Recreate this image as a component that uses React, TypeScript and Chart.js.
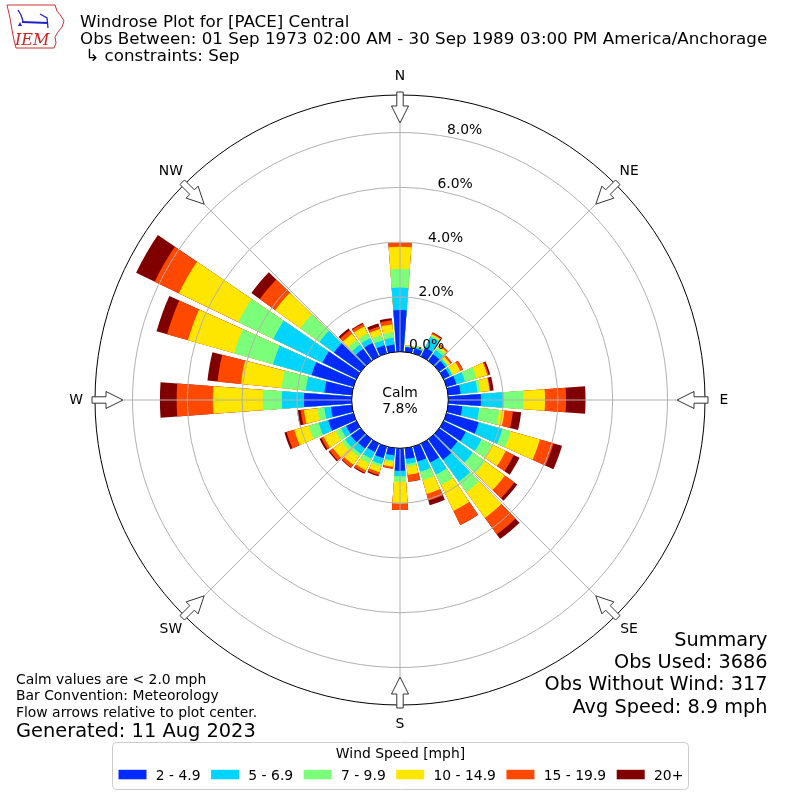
import React, { useEffect, useRef } from "react";
import { Chart, registerables } from "chart.js";

Chart.register(...registerables);

// Wind directions (degrees clockwise from north)
const directions = [0, 10, 20, 30, 40, 50, 60, 70, 80, 90, 100, 110, 120, 130, 140, 150, 160, 170,
  180, 190, 200, 210, 220, 230, 240, 250, 260, 270, 280, 290, 300, 310, 320, 330, 340, 350];

const speedBins = ["2 - 4.9", "5 - 6.9", "7 - 9.9", "10 - 14.9", "15 - 19.9", "20+"];
const binColors = ["#002aff", "#00d4ff", "#7bff7b", "#ffe600", "#ff4800", "#800000"];

// Frequency (%) of each speed bin for each direction
const freq2to5 = [1.52, 0.18, 0.20, 0.35, 0.30, 0.28, 0.25, 0.37, 0.46, 1.19, 0.52, 1.22, 0.90, 0.82, 0.92, 0.77, 0.57, 0.40,
  0.82, 0.27, 0.44, 0.34, 0.42, 0.45, 0.42, 0.96, 0.77, 1.74, 1.01, 1.59, 1.38, 1.21, 0.54, 0.55, 0.31, 0.27];
const freq5to7 = [0.82, 0.02, 0.05, 0.45, 0.18, 0.08, 0.10, 0.33, 0.62, 0.82, 0.62, 0.90, 0.64, 0.69, 0.99, 0.49, 0.39, 0.18,
  0.20, 0.19, 0.23, 0.28, 0.25, 0.25, 0.21, 0.36, 0.24, 0.81, 0.68, 1.46, 1.99, 0.65, 0.19, 0.19, 0.19, 0.25];
const freq7to10 = [0.68, 0.02, 0.03, 0.05, 0.12, 0.04, 0.03, 0.44, 0.11, 0.73, 0.74, 0.32, 0.42, 0.56, 0.47, 0.42, 0.32, 0.10,
  0.20, 0.06, 0.10, 0.19, 0.13, 0.15, 0.21, 0.38, 0.25, 0.70, 0.89, 1.48, 1.42, 0.86, 0.21, 0.19, 0.20, 0.19];
const freq10to15 = [0.81, 0.03, 0.02, 0.05, 0.08, 0.10, 0.30, 0.41, 0.33, 0.79, 0.19, 1.10, 0.56, 0.88, 1.16, 1.05, 0.52, 0.30,
  0.80, 0.16, 0.21, 0.28, 0.35, 0.40, 0.49, 0.55, 0.50, 1.82, 1.49, 1.75, 2.41, 1.13, 0.28, 0.29, 0.23, 0.30];
const freq15to20 = [0.15, 0.00, 0.00, 0.05, 0.05, 0.06, 0.10, 0.05, 0.03, 0.77, 0.31, 0.52, 0.33, 0.43, 0.74, 0.57, 0.25, 0.25,
  0.23, 0.07, 0.10, 0.10, 0.12, 0.15, 0.10, 0.29, 0.12, 1.32, 0.86, 0.79, 0.98, 0.69, 0.15, 0.11, 0.09, 0.15];
const freq20plus = [0.00, 0.00, 0.00, 0.03, 0.01, 0.01, 0.01, 0.06, 0.12, 0.71, 0.30, 0.32, 0.23, 0.13, 0.21, 0.00, 0.18, 0.01,
  0.00, 0.01, 0.05, 0.04, 0.03, 0.05, 0.07, 0.08, 0.13, 0.61, 0.37, 0.40, 0.75, 0.38, 0.08, 0.04, 0.12, 0.08];

const radialTicks = [0, 2, 4, 6, 8];
const compassLabels = ["N", "NE", "E", "SE", "S", "SW", "W", "NW"];
const compassAngles = [0, 45, 90, 135, 180, 225, 270, 315];
const calmPercent = 7.8;

const titleLines = [
  "Windrose Plot for [PACE] Central",
  "Obs Between: 01 Sep 1973 02:00 AM - 30 Sep 1989 03:00 PM America/Anchorage",
  " \u21b3 constraints: Sep",
];
const noteLines = [
  "Calm values are < 2.0 mph",
  "Bar Convention: Meteorology",
  "Flow arrows relative to plot center.",
];
const generatedText = "Generated: 11 Aug 2023";
const summaryLines = ["Summary", "Obs Used: 3686", "Obs Without Wind: 317", "Avg Speed: 8.9 mph"];
const legendTitle = "Wind Speed [mph]";

// radial scale limits: the centre of the plot is the calm hole
const R_MIN = -1.763;
const R_MAX = 9.369;
const BAR_WIDTH = 8.5;
const GAP_WIDTH = 1.5;

const FONT = '"DejaVu Sans", "Liberation Sans", sans-serif';

export default function App() {
  const ref = useRef<HTMLCanvasElement>(null);

  useEffect(() => {
    const canvas = ref.current;
    if (!canvas) return;
    const series = [freq2to5, freq5to7, freq7to10, freq10to15, freq15to20, freq20plus];

    const labels: string[] = [];
    const angles: number[] = [];
    directions.forEach((d) => {
      labels.push(String(d));
      labels.push("");
      angles.push(BAR_WIDTH);
      angles.push(GAP_WIDTH);
    });

    const datasets = series.map((_, k) => {
      const data: number[] = [];
      directions.forEach((_d, i) => {
        let s = 0;
        for (let j = 0; j <= k; j++) s += series[j][i];
        data.push(s);
        data.push(R_MIN);
      });
      return {
        label: speedBins[k],
        data,
        backgroundColor: binColors[k],
        borderWidth: 0,
        angle: angles,
      };
    });

    const windrosePlugin = {
      id: "windroseDecor",
      afterDraw(chart: any) {
        const ctx: CanvasRenderingContext2D = chart.ctx;
        const s: any = chart.scales.r;
        const cx = s.xCenter;
        const cy = s.yCenter;
        const R = s.drawingArea;
        const rv = (v: number) => s.getDistanceFromCenterForValue(v);
        const pt = (deg: number, r: number) => {
          const t = (deg * Math.PI) / 180;
          return [cx + r * Math.sin(t), cy - r * Math.cos(t)];
        };
        const font = (px: number, extra = "") => `${extra}${px}px ${FONT}`;
        const r0 = rv(0);

        ctx.save();
        // grid circles
        ctx.strokeStyle = "#b0b0b0";
        ctx.lineWidth = 1;
        radialTicks.forEach((v) => {
          if (v <= 0) return;
          ctx.beginPath();
          ctx.arc(cx, cy, rv(v), 0, Math.PI * 2);
          ctx.stroke();
        });
        // angle lines
        compassAngles.forEach((a) => {
          const [x0, y0] = pt(a, r0);
          const [x1, y1] = pt(a, R);
          ctx.beginPath();
          ctx.moveTo(x0, y0);
          ctx.lineTo(x1, y1);
          ctx.stroke();
        });
        // outer circle
        ctx.strokeStyle = "#000";
        ctx.lineWidth = 1;
        ctx.beginPath();
        ctx.arc(cx, cy, R, 0, Math.PI * 2);
        ctx.stroke();
        // calm circle
        ctx.fillStyle = "#fff";
        ctx.beginPath();
        ctx.arc(cx, cy, r0, 0, Math.PI * 2);
        ctx.fill();
        ctx.stroke();
        ctx.fillStyle = "#000";
        ctx.font = font(13.9);
        ctx.textAlign = "center";
        ctx.textBaseline = "alphabetic";
        ctx.fillText("Calm", cx, cy - 3);
        ctx.fillText(`${calmPercent.toFixed(1)}%`, cx, cy + 12.7);

        // radial tick labels
        ctx.textAlign = "left";
        radialTicks.forEach((v) => {
          const [x, y] = pt(10, rv(v) + 3);
          ctx.fillText(`${v.toFixed(1)}%`, x, y);
        });

        // arrows and compass labels
        compassAngles.forEach((a, i) => {
          const t = (a * Math.PI) / 180;
          const ux = Math.sin(t), uy = -Math.cos(t);
          const vx = Math.cos(t), vy = Math.sin(t);
          const P = (u: number, w: number) => [cx + ux * u + vx * w, cy + uy * u + vy * w];
          const pts = [P(R + 3, -3.2), P(R - 11, -3.2), P(R - 11, -8.5), P(R - 28, 0),
            P(R - 11, 8.5), P(R - 11, 3.2), P(R + 3, 3.2)];
          ctx.beginPath();
          pts.forEach(([x, y], k) => (k === 0 ? ctx.moveTo(x, y) : ctx.lineTo(x, y)));
          ctx.closePath();
          ctx.fillStyle = "#fff";
          ctx.fill();
          ctx.strokeStyle = "#333";
          ctx.lineWidth = 1;
          ctx.stroke();
          const [lx, ly] = pt(a, R + 19);
          ctx.fillStyle = "#000";
          ctx.font = font(13.9);
          ctx.textAlign = "center";
          ctx.textBaseline = "middle";
          ctx.fillText(compassLabels[i], lx, ly);
        });

        // logo
        ctx.textBaseline = "alphabetic";
        ctx.strokeStyle = "#cc3333";
        ctx.lineWidth = 1;
        ctx.beginPath();
        const logo = [[7, 5], [55, 5], [57, 11], [61, 16], [64, 21], [62, 27], [58, 32], [55, 37], [56, 43],
          [54, 48], [16, 48], [14, 40], [12, 30], [10, 18]];
        logo.forEach(([x, y], k) => (k === 0 ? ctx.moveTo(x, y) : ctx.lineTo(x, y)));
        ctx.closePath();
        ctx.stroke();
        ctx.strokeStyle = "#2222cc";
        ctx.fillStyle = "#2222cc";
        ctx.lineWidth = 2;
        ctx.beginPath();
        ctx.moveTo(22, 22);
        ctx.lineTo(48, 23);
        ctx.stroke();
        ctx.lineWidth = 1.3;
        ctx.beginPath();
        ctx.moveTo(18, 10);
        ctx.lineTo(21, 15);
        ctx.lineTo(23, 21);
        ctx.moveTo(40, 14);
        ctx.lineTo(47, 18);
        ctx.lineTo(48, 28);
        ctx.stroke();
        ctx.beginPath();
        ctx.moveTo(18, 26);
        ctx.lineTo(22, 26);
        ctx.lineTo(20, 22);
        ctx.closePath();
        ctx.fill();
        ctx.fillStyle = "#cc2222";
        ctx.font = 'italic 16px "DejaVu Serif", "Liberation Serif", serif';
        ctx.textAlign = "left";
        ctx.fillText("IEM", 15, 45);

        // title
        ctx.fillStyle = "#000";
        ctx.font = font(16.7);
        ctx.fillText(titleLines[0], 80, 26.7);
        ctx.fillText(titleLines[1], 80, 44);
        ctx.fillText(titleLines[2], 80, 61);

        // notes bottom-left
        ctx.font = font(13.9);
        noteLines.forEach((t, i) => ctx.fillText(t, 16, 684 + i * 16.4));
        ctx.font = font(19.4);
        ctx.fillText(generatedText, 16, 736.5);

        // summary bottom-right
        ctx.font = font(19.3);
        ctx.textAlign = "right";
        summaryLines.forEach((t, i) => ctx.fillText(t, 767.5, 646 + i * 22.2));

        // legend
        const lx0 = 112.5, ly0 = 742.5, lw = 576, lh = 47;
        ctx.beginPath();
        ctx.roundRect(lx0, ly0, lw, lh, 4);
        ctx.fillStyle = "rgba(255,255,255,0.8)";
        ctx.fill();
        ctx.strokeStyle = "#cccccc";
        ctx.lineWidth = 1;
        ctx.stroke();
        ctx.fillStyle = "#000";
        ctx.font = font(13.9);
        ctx.textAlign = "center";
        ctx.fillText(legendTitle, lx0 + lw / 2, 757.5);
        ctx.textAlign = "left";
        let x = 118.5;
        speedBins.forEach((lab, i) => {
          ctx.fillStyle = binColors[i];
          ctx.fillRect(x, 769.8, 28, 9.5);
          ctx.fillStyle = "#000";
          ctx.fillText(lab, x + 37.3, 779.5);
          x += 37.3 + ctx.measureText(lab).width + 10.5;
        });
        ctx.restore();
      },
    };

    const chart = new Chart(canvas, {
      type: "polarArea",
      data: { labels, datasets: datasets as any },
      options: {
        responsive: false,
        animation: false,
        layout: { padding: { left: 95, right: 95, top: 95, bottom: 95 } },
        plugins: {
          legend: { display: false },
          tooltip: { enabled: false },
          title: { display: false },
        },
        scales: {
          r: {
            type: "radialLinear",
            min: R_MIN,
            max: R_MAX,
            startAngle: -BAR_WIDTH / 2,
            afterBuildTicks: (sc: any) => {
              sc.ticks = radialTicks.map((v) => ({ value: v }));
            },
            ticks: { display: false },
            grid: { display: false },
            angleLines: { display: false },
            pointLabels: { display: false },
          },
        },
      } as any,
      plugins: [windrosePlugin],
    });
    return () => chart.destroy();
  }, []);

  return (
    <div style={{ position: "absolute", left: 0, top: 0, width: 800, height: 800, background: "#fff" }}>
      <canvas ref={ref} width={800} height={800} style={{ width: 800, height: 800, display: "block" }} />
    </div>
  );
}
